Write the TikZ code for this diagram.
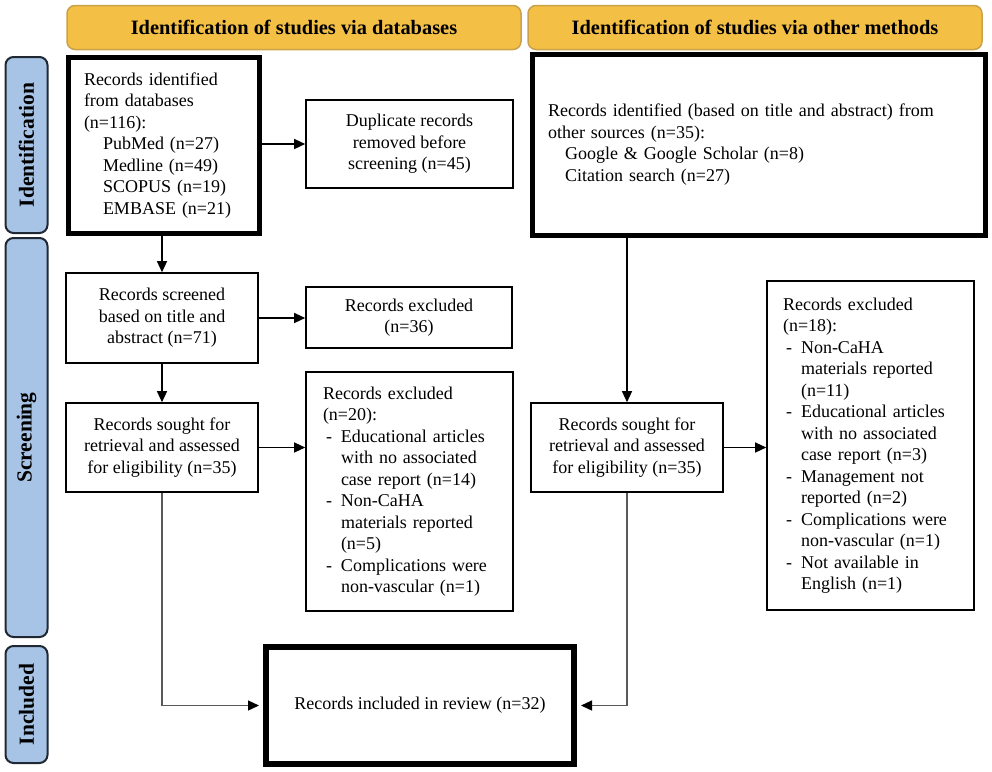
\documentclass[tikz,border=0pt]{standalone}
\usepackage{fontspec}
\setmainfont{Liberation Serif}
\usetikzlibrary{arrows.meta}
\definecolor{hdrfill}{HTML}{F3BF45}
\definecolor{hdrdraw}{HTML}{C9A24A}
\definecolor{sidefill}{HTML}{A7C3E5}
\definecolor{sidedraw}{HTML}{202833}
\newcommand{\ind}{\hspace*{18pt}}
\newcommand{\dsh}{\makebox[18pt][l]{\hspace{3pt}-}}
\begin{document}
\begin{tikzpicture}[x=1pt,y=-1pt,
  box/.style={draw, line width=1.6pt, inner sep=0pt, align=center, font=\fontsize{18}{21.5}\selectfont},
  thickbox/.style={box, line width=5pt},
  hdr/.style={draw=hdrdraw, fill=hdrfill, line width=1.5pt, rounded corners=8pt, font=\bfseries\fontsize{20.4}{24}\selectfont, inner sep=0pt, minimum width=454pt, minimum height=44pt},
  side/.style={draw=sidedraw, fill=sidefill, line width=2pt, rounded corners=8pt, inner sep=0pt, rotate=90, minimum height=42pt, font=\bfseries\fontsize{21.5}{24}\selectfont},
  arr/.style={line width=1.3pt, -{Triangle[length=11pt,width=10pt]}},
  link/.style={line width=1.3pt, draw=black!65, -{Triangle[length=11pt,width=10pt,color=black,fill=black]}},
]
\useasboundingbox (0,0) rectangle (992,771);
% headers
\node[hdr] (h1) at (294,27.5) {Identification of studies via databases};
\node[hdr] (h2) at (755,27.5) {Identification of studies via other methods};
% side labels
\node[side, minimum width=176pt] (s1) at (26.5,145) {Identification};
\node[side, minimum width=399pt] (s2) at (26.5,437.5) {Screening};
\node[side, minimum width=117pt] (s3) at (26.5,704.5) {Included};
% boxes
\node[thickbox, align=left, inner xsep=16pt, text width=159pt, minimum height=175.5pt] (A) at (163.5,145.25)
 {Records identified\\from databases\\(n=116):\\\hspace*{19pt}PubMed (n=27)\\\hspace*{19pt}Medline (n=49)\\\hspace*{19pt}SCOPUS (n=19)\\\hspace*{19pt}EMBASE (n=21)};
\node[box, minimum width=207pt, minimum height=88pt] (B) at (409.5,144)
 {Duplicate records\\removed before\\screening (n=45)};
\node[box, minimum width=192pt, minimum height=90pt] (Scr) at (162,318)
 {Records screened\\based on title and\\abstract (n=71)};
\node[box, minimum width=206pt, minimum height=61pt] (E36) at (409,317.5)
 {Records excluded\\(n=36)};
\node[box, minimum width=192pt, minimum height=89pt] (S1) at (162,447.5)
 {Records sought for\\retrieval and assessed\\for eligibility (n=35)};
\node[box, align=left, inner xsep=17pt, text width=173pt, minimum height=239pt] (E20) at (409.5,491.5)
 {Records excluded\\(n=20):\\\dsh Educational articles\\\ind with no associated\\\ind case report (n=14)\\\dsh Non-CaHA\\\ind materials reported\\\ind (n=5)\\\dsh Complications were\\\ind non-vascular (n=1)};
\node[thickbox, align=left, inner xsep=15.5pt, text width=422pt, minimum height=180.5pt] (C) at (759,144.75)
 {Records identified (based on title and abstract) from\\other sources (n=35):\\\hspace*{17pt}Google \& Google Scholar (n=8)\\\hspace*{17pt}Citation search (n=27)};
\node[box, minimum width=192pt, minimum height=89pt] (S2) at (627,447.5)
 {Records sought for\\retrieval and assessed\\for eligibility (n=35)};
\node[box, align=left, inner xsep=16pt, text width=175pt, minimum height=329pt] (E18) at (870.5,445.5)
 {Records excluded\\(n=18):\\\dsh Non-CaHA\\\ind materials reported\\\ind (n=11)\\\dsh Educational articles\\\ind with no associated\\\ind case report (n=3)\\\dsh Management not\\\ind reported (n=2)\\\dsh Complications were\\\ind non-vascular (n=1)\\\dsh Not available in\\\ind English (n=1)};
\node[box, line width=6pt, minimum width=308pt, minimum height=117pt] (F) at (420,705.5)
 {Records included in review (n=32)};
% connectors
\draw[arr] (A.east |- B.west) -- (B.west);
\draw[arr] (Scr.north |- A.south) -- (Scr.north);
\draw[arr] (Scr.east) -- (Scr.east -| E36.west);
\draw[arr] (Scr.south) -- (S1.north);
\draw[arr] (S1.east) -- (S1.east -| E20.west);
\draw[arr] (S2.north |- C.south) -- (S2.north);
\draw[arr] (S2.east) -- (S2.east -| E18.west);
\draw[link, shorten >=4pt] (S1.south) |- (F.west);
\draw[link, shorten >=4pt] (S2.south) |- (F.east);
\end{tikzpicture}
\end{document}
